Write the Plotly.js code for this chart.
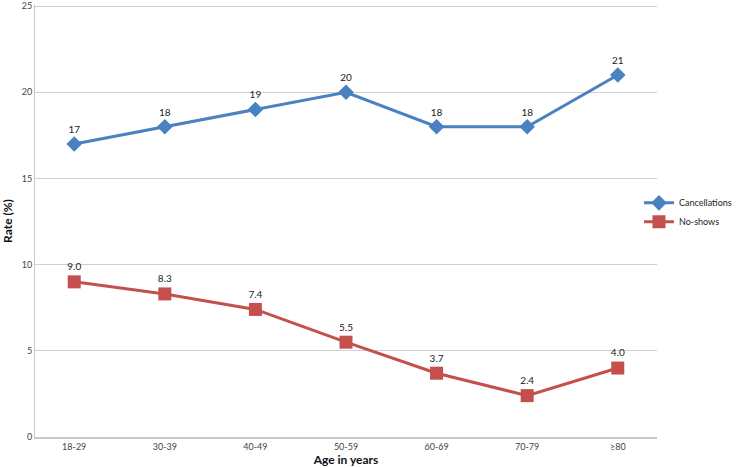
<!DOCTYPE html>
<html><head><meta charset="utf-8">
<script src="https://cdn.plot.ly/plotly-3.0.1.min.js"></script>
<style>html,body{margin:0;padding:0;background:#fff}#chart{width:742px;height:468px}</style>
</head><body><div id="chart"></div>
<script>
const ageGroups = ["18-29","30-39","40-49","50-59","60-69","70-79","≥80"];
const cancellations = [17,18,19,20,18,18,21];
const noShows = [9.0,8.3,7.4,5.5,3.7,2.4,4.0];
const cancelLabels = cancellations.map(v => v.toFixed(0));
const noShowLabels = noShows.map(v => v.toFixed(1));

const font = "Lato, 'Open Sans', sans-serif";
const traces = [
  {x: ageGroups, y: cancellations, name: "Cancellations", type: "scatter", mode: "lines+markers+text",
   text: cancelLabels, textposition: "top center", textfont: {family: font, size: 10, color: "#222"},
   line: {color: "#4A81C0", width: 3}, marker: {symbol: "diamond", size: 12, color: "#4A81C0"}, cliponaxis: false},
  {x: ageGroups, y: noShows, name: "No-shows", type: "scatter", mode: "lines+markers+text",
   text: noShowLabels, textposition: "top center", textfont: {family: font, size: 10, color: "#222"},
   line: {color: "#C4504D", width: 3}, marker: {symbol: "square", size: 13, color: "#C4504D"}, cliponaxis: false}
];
const layout = {
  width: 742, height: 468,
  margin: {l: 35, r: 81, t: 5, b: 31},
  paper_bgcolor: "#fff", plot_bgcolor: "#fff",
  font: {family: font, size: 9, color: "#333"},
  showlegend: true,
  legend: {x: 0.971, y: 0.52, xanchor: "left", yanchor: "middle", font: {family: font, size: 9, color: "#222"},
           itemwidth: 30, tracegroupgap: 2, bgcolor: "rgba(0,0,0,0)", borderwidth: 0},
  xaxis: {type: "category", showline: true, linecolor: "#C8C8C8", linewidth: 2, showgrid: false,
          ticks: "", tickfont: {family: font, size: 9, color: "#444"},
          title: {text: "Age in years", font: {family: font, size: 12, color: "#111", weight: "bold"}, standoff: 4}},
  yaxis: {range: [0, 25.06], tickvals: [0,5,10,15,20,25], showline: true, linecolor: "#C8C8C8", linewidth: 1,
          gridcolor: "#D0D0D0", gridwidth: 1, zeroline: false, ticks: "", ticklabeloverflow: "allow",
          tickfont: {family: font, size: 9, color: "#444"},
          title: {text: "Rate (%)", font: {family: font, size: 12, color: "#111", weight: "bold"}, standoff: 10}}
};
Plotly.newPlot("chart", traces, layout, {displayModeBar: false});
</script></body></html>
